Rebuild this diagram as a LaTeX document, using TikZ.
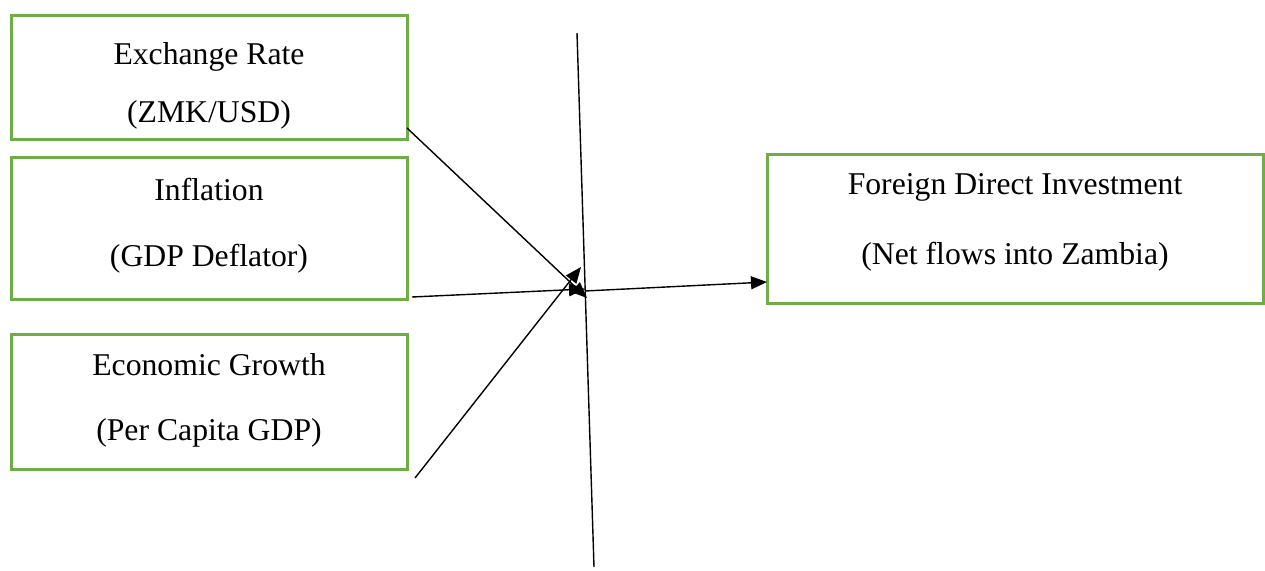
\documentclass[tikz,border=0pt]{standalone}
\usepackage{fontspec}
\setmainfont{Liberation Serif}
\newfontfamily\capfont{Liberation Serif}
\usetikzlibrary{arrows.meta}
\definecolor{boxgreen}{RGB}{112,173,71}
\begin{document}
\begin{tikzpicture}[x=1pt,y=-1pt,
  varbox/.style={draw=boxgreen,line width=3pt,fill=none},
  lbl/.style={anchor=base,inner sep=0pt,font=\capfont\fontsize{31.7}{38}\selectfont},
  link/.style={line width=1.4pt,-{Triangle[length=16pt,width=13pt]}},
  axis/.style={line width=1.4pt}]
\useasboundingbox (0,0) rectangle (1265,570);

% variable boxes
\node[varbox,minimum width=396pt,minimum height=124pt,inner sep=0pt] (b1) at (209,77) {};
\node[varbox,minimum width=396pt,minimum height=142pt,inner sep=0pt] (b2) at (209,228) {};
\node[varbox,minimum width=396pt,minimum height=135pt,inner sep=0pt] (b3) at (209,401.5) {};
\node[varbox,minimum width=496pt,minimum height=149pt,inner sep=0pt] (b4) at (1015,228.5) {};

% box captions
\node[lbl] (t1a) at (209,64) {Exchange Rate};
\node[lbl] (t1b) at (209,122) {(ZMK/USD)};
\node[lbl] (t2a) at (209,200) {Inflation};
\node[lbl] (t2b) at (209,266) {(GDP Deflator)};
\node[lbl] (t3a) at (209,375) {Economic Growth};
\node[lbl] (t3b) at (209,440) {(Per Capita GDP)};
\node[lbl] (t4a) at (1015,194) {Foreign Direct Investment};
\node[lbl] (t4b) at (1015,264) {(Net flows into Zambia)};

% connector end points
\coordinate (aS) at (407,128);
\coordinate (aE) at (587,298);
\coordinate (bS) at (412,297);
\coordinate (bE) at (585,289);
\coordinate (cS) at (415,478);
\coordinate (cE) at (581,267);
\coordinate (dS) at (585,291);
\coordinate (dE) at (767,282);
\coordinate (vT) at (577,33);
\coordinate (vB) at (594,567);

% vertical divider
\draw[axis] (vT) -- (vB);

% arrows into the junction and on to FDI
\draw[link] (aS) -- (aE);
\draw[link] (bS) -- (bE);
\draw[link] (cS) -- (cE);
\draw[link] (dS) -- (dE);
\end{tikzpicture}
\end{document}
